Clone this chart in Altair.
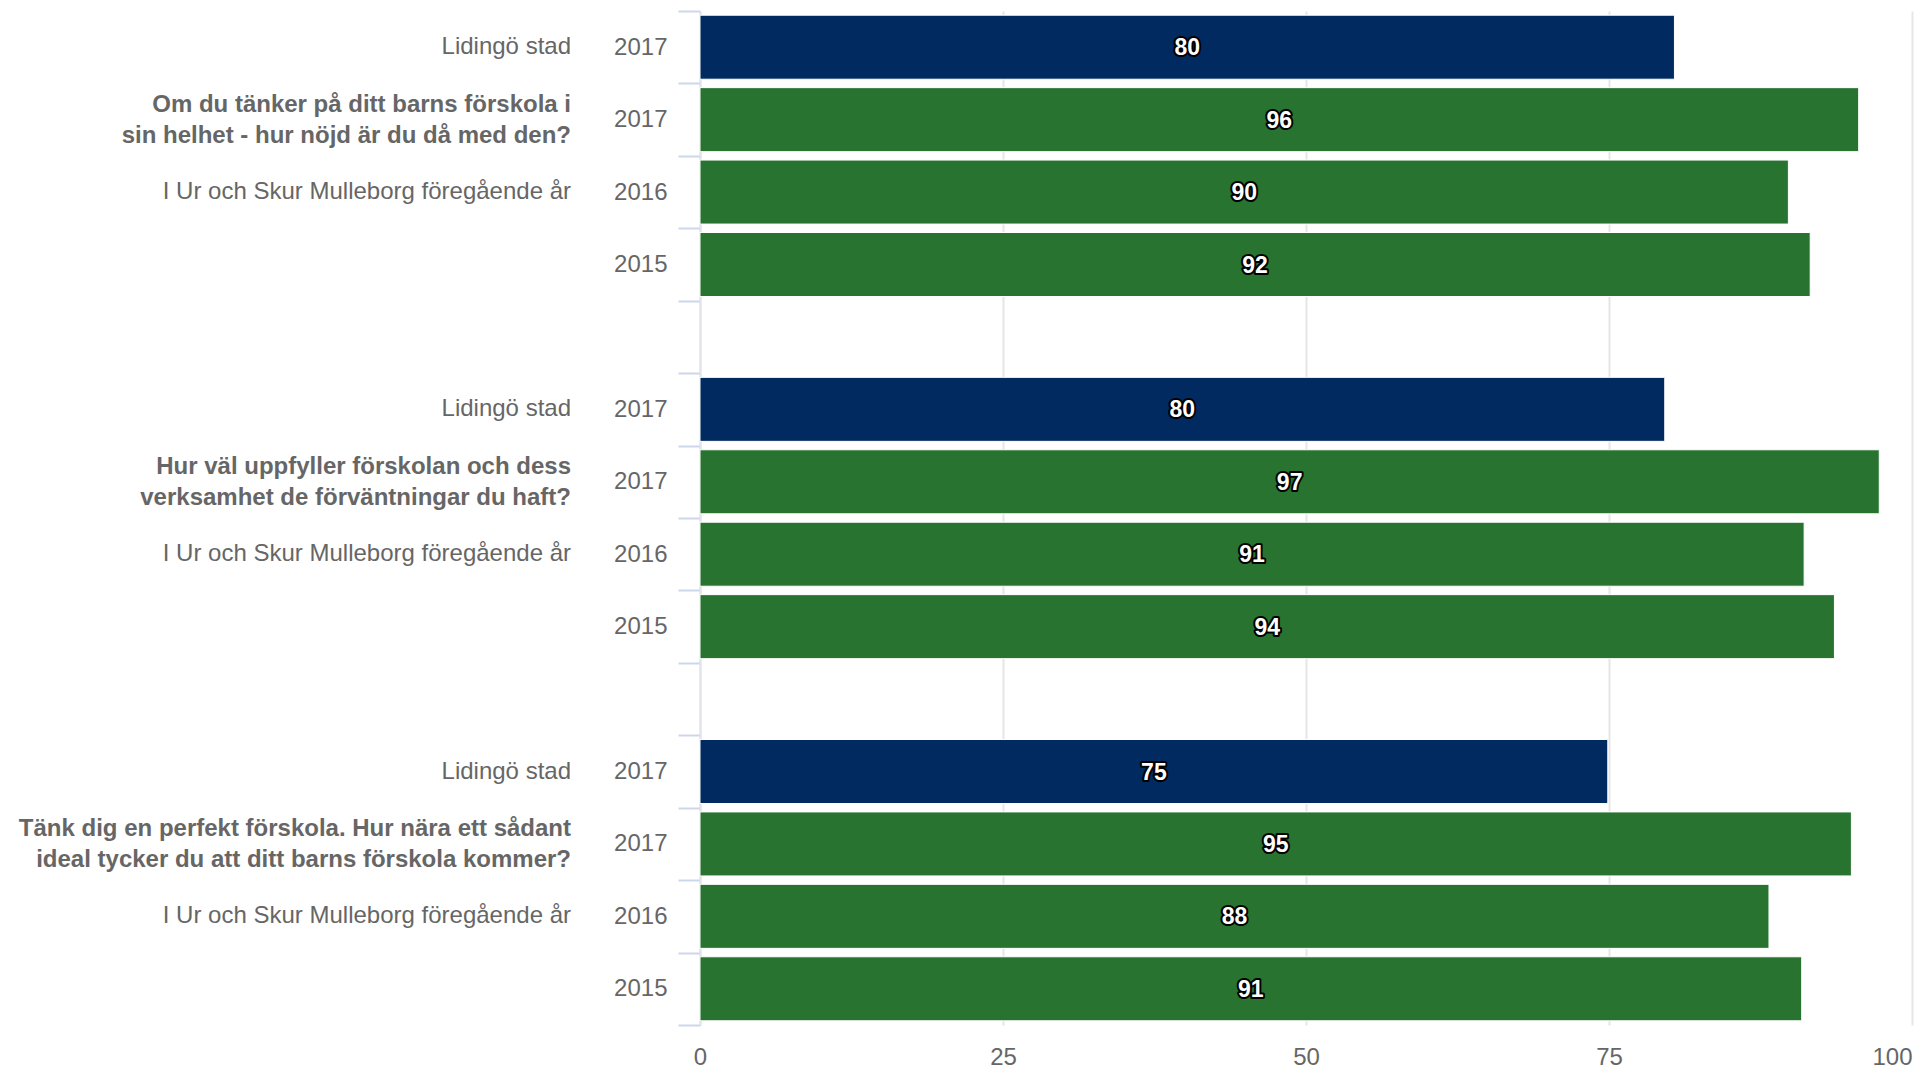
import altair as alt
import pandas as pd

# ---- data ----
questions = [
    "Om du tänker på ditt barns förskola i\nsin helhet - hur nöjd är du då med den?",
    "Hur väl uppfyller förskolan och dess\nverksamhet de förväntningar du haft?",
    "Tänk dig en perfekt förskola. Hur nära ett sådant\nideal tycker du att ditt barns förskola kommer?",
]
row_names = ["Lidingö stad", "QUESTION", "I Ur och Skur Mulleborg föregående år", ""]
years = ["2017", "2017", "2016", "2015"]
series = ["Lidingö stad", "Förskolan", "Förskolan", "Förskolan"]
bar_values = [
    [80.4, 95.6, 89.8, 91.6],
    [79.6, 97.3, 91.1, 93.6],
    [74.9, 95.0, 88.2, 90.9],
]
shown_labels = [
    [80, 96, 90, 92],
    [80, 97, 91, 94],
    [75, 95, 88, 91],
]
x_ticks = [0, 25, 50, 75, 100]

NAVY = "#012a61"
GREEN = "#27732f"
GRAY = "#666666"
FONT = "Liberation Sans"

rows = []
domain = []
for g in range(len(questions)):
    for i in range(4):
        key = f"{g}{i}|{years[i]}"
        domain.append(key)
        cat = questions[g] if row_names[i] == "QUESTION" else row_names[i]
        rows.append(
            dict(
                key=key,
                value=bar_values[g][i],
                label=str(shown_labels[g][i]),
                series=series[i],
                cat=cat,
                bold=row_names[i] == "QUESTION",
            )
        )
    if g < len(questions) - 1:
        domain.append(f"gap{g}|")

df = pd.DataFrame(rows)

yscale = alt.Scale(domain=domain, paddingInner=0, paddingOuter=0)

y_axis = alt.Axis(
    title=None,
    tickBand="extent",
    tickSize=22,
    tickWidth=2,
    tickColor="#ccd6eb",
    domainColor="#e0e3ea",
    domainWidth=2,
    labelExpr="split(datum.value, '|')[1]",
    labelFontSize=24,
    labelFont=FONT,
    labelColor=GRAY,
    labelPadding=11,
    grid=False,
)
x_axis = alt.Axis(
    title=None,
    values=x_ticks,
    grid=True,
    gridColor="#e6e6e6",
    gridWidth=2,
    domain=False,
    ticks=False,
    tickSize=0,
    labelPadding=20,
    labelFontSize=24,
    labelFont=FONT,
    labelColor=GRAY,
    labelAlign={"condition": {"test": "datum.value == 100", "value": "right"}, "value": "center"},
)

base = alt.Chart(df)
Y = alt.Y("key:N", scale=yscale, axis=y_axis, sort=domain)

bars = base.mark_bar(size=64, stroke="white", strokeWidth=1).encode(
    x=alt.X("value:Q", scale=alt.Scale(domain=[0, 100], nice=False), axis=x_axis),
    y=Y,
    color=alt.Color(
        "series:N",
        scale=alt.Scale(domain=["Lidingö stad", "Förskolan"], range=[NAVY, GREEN]),
        legend=None,
    ),
)

mid = base.transform_calculate(mid="datum.value / 2")
outline = mid.mark_text(
    font=FONT, fontSize=23, fontWeight="bold", fill="black", stroke="black",
    strokeWidth=4, strokeJoin="round", baseline="middle", align="center", dy=1,
).encode(x="mid:Q", y=alt.Y("key:N", scale=yscale, sort=domain), text="label:N")
fill = mid.mark_text(
    font=FONT, fontSize=23, fontWeight="bold", fill="white",
    baseline="middle", align="center", dy=1,
).encode(x="mid:Q", y=alt.Y("key:N", scale=yscale, sort=domain), text="label:N")

cat_normal = base.transform_filter("!datum.bold && datum.cat != ''").mark_text(
    font=FONT, fontSize=24, color=GRAY, align="right", baseline="middle"
).encode(x=alt.value(-129), y=alt.Y("key:N", scale=yscale, sort=domain), text="cat:N")

cat_bold = base.transform_filter("datum.bold").mark_text(
    font=FONT, fontSize=24, fontWeight="bold", color=GRAY, align="right",
    baseline="middle", lineBreak="\n", lineHeight=31, dy=-15,
).encode(x=alt.value(-129), y=alt.Y("key:N", scale=yscale, sort=domain), text="cat:N")

chart = (
    alt.layer(bars, outline, fill, cat_normal, cat_bold)
    .properties(
        width=1212,
        height=1014,
        autosize="none",
        padding={"left": 692, "top": 3, "right": 8, "bottom": 49},
        background="white",
    )
    .configure_view(stroke=None)
)

chart.save("out.html", embed_options={"renderer": "svg", "actions": False})
